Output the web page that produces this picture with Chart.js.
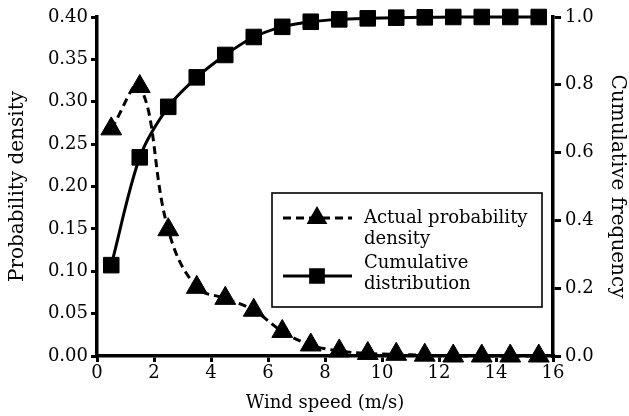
<!DOCTYPE html>
<html>
<head>
<meta charset="utf-8">
<script src="https://cdn.jsdelivr.net/npm/chart.js@4/dist/chart.umd.min.js"></script>
<style>
  html, body { margin: 0; padding: 0; background: #fff; }
  #wrap { width: 629px; height: 416px; }
</style>
</head>
<body>
<div id="wrap"><canvas id="chart" width="629" height="416"></canvas></div>
<script>
// wind speed bin centres (m/s)
var windSpeed = [0.5, 1.5, 2.5, 3.5, 4.5, 5.5, 6.5, 7.5, 8.5, 9.5, 10.5, 11.5, 12.5, 13.5, 14.5, 15.5];
// actual probability density (left axis)
var density = [0.268, 0.318, 0.149, 0.081, 0.068, 0.054, 0.029, 0.013, 0.006, 0.003, 0.002, 0.001, 0.0, 0.0, 0.0, 0.0];
// cumulative distribution (right axis)
var cumulative = [0.268, 0.586, 0.735, 0.822, 0.888, 0.941, 0.971, 0.986, 0.993, 0.996, 0.998, 0.999, 1.0, 1.0, 1.0, 1.0];
var legendLabels = [['Actual probability', 'density'], ['Cumulative', 'distribution']];

var FONT = "'DejaVu Serif', serif";

function pairs(xs, ys) {
    var out = [];
    for (var i = 0; i < xs.length; i++) out.push({x: xs[i], y: ys[i]});
    return out;
}

// legend box drawn by hand, the chart.js one can't wrap labels
var boxLegend = {
    id: 'boxLegend',
    afterDatasetsDraw: function(chart) {
        var ctx = chart.ctx;
        var box = {l: 272, t: 193, r: 542, b: 307};
        var rows = [{y: 218, text: 218}, {y: 276, text: 263}];
        ctx.save();
        ctx.fillStyle = '#fff';
        ctx.fillRect(box.l, box.t, box.r - box.l, box.b - box.t);
        ctx.lineWidth = 1.6;
        ctx.strokeStyle = '#000';
        ctx.strokeRect(box.l, box.t, box.r - box.l, box.b - box.t);
        chart.data.datasets.forEach(function(ds, i) {
            var y = rows[i].y;
            ctx.beginPath();
            ctx.setLineDash(ds.borderDash || []);
            ctx.lineWidth = ds.borderWidth;
            ctx.moveTo(283, y);
            ctx.lineTo(352, y);
            ctx.stroke();
            ctx.setLineDash([]);
            ctx.fillStyle = '#000';
            Chart.helpers.drawPoint(ctx, {pointStyle: ds.pointStyle, radius: 9, rotation: 0, borderWidth: 1}, 317, y);
            ctx.fillStyle = '#000';
            ctx.font = '18px ' + FONT;
            ctx.textBaseline = 'middle';
            ctx.textAlign = 'left';
            ctx.fillText(legendLabels[i][0], 364, rows[i].text);
            ctx.fillText(legendLabels[i][1], 364, rows[i].text + 21);
        });
        ctx.restore();
    }
};

var tickFont = {family: FONT, size: 18};
var vTitleFont = {family: FONT, size: 20};
var hTitleFont = {family: FONT, size: 18};

new Chart(document.getElementById('chart'), {
    type: 'line',
    data: {
        datasets: [
            {
                label: 'Actual probability density',
                data: pairs(windSpeed, density),
                yAxisID: 'y',
                borderColor: '#000',
                backgroundColor: '#000',
                borderWidth: 3,
                borderDash: [8, 5],
                pointStyle: 'triangle',
                pointRadius: 12,
                pointBorderWidth: 1,
                tension: 0.4,
                clip: false
            },
            {
                label: 'Cumulative distribution',
                data: pairs(windSpeed, cumulative),
                yAxisID: 'y2',
                borderColor: '#000',
                backgroundColor: '#000',
                borderWidth: 3,
                pointStyle: 'rect',
                pointRadius: 11,
                pointBorderWidth: 1,
                tension: 0.3,
                clip: false
            }
        ]
    },
    options: {
        responsive: false,
        animation: false,
        layout: {padding: {top: 17, left: 0, right: 0, bottom: 0}},
        plugins: {legend: {display: false}, tooltip: {enabled: false}},
        scales: {
            x: {
                type: 'linear',
                min: 0, max: 16,
                afterFit: function(s) { s.height = 60; },
                ticks: {stepSize: 2, color: '#000', font: tickFont, padding: 1, maxRotation: 0},
                grid: {drawOnChartArea: false, tickLength: 6, lineWidth: 3, color: '#000'},
                border: {display: true, width: 3.5, color: '#000'},
                title: {display: true, text: 'Wind speed (m/s)', color: '#000', font: hTitleFont, padding: {bottom: 2}}
            },
            y: {
                position: 'left',
                min: 0, max: 0.4,
                afterFit: function(s) { s.width = 97; },
                ticks: {
                    stepSize: 0.05, color: '#000', font: tickFont, padding: 3,
                    callback: function(v) { return v.toFixed(2); }
                },
                grid: {drawOnChartArea: false, tickLength: 6, lineWidth: 3, color: '#000'},
                border: {display: true, width: 3.5, color: '#000'},
                title: {display: true, text: 'Probability density', color: '#000', font: vTitleFont, padding: {top: 6}}
            },
            y2: {
                position: 'right',
                min: 0, max: 1,
                afterFit: function(s) { s.width = 76; },
                ticks: {
                    stepSize: 0.2, color: '#000', font: tickFont, padding: 4,
                    callback: function(v) { return v.toFixed(1); }
                },
                grid: {drawOnChartArea: false, tickLength: 8, lineWidth: 3, color: '#000'},
                border: {display: true, width: 3.5, color: '#000'},
                title: {display: true, text: 'Cumulative frequency', color: '#000', font: vTitleFont, padding: {top: 0}}
            }
        }
    },
    plugins: [boxLegend]
});
</script>
</body>
</html>
